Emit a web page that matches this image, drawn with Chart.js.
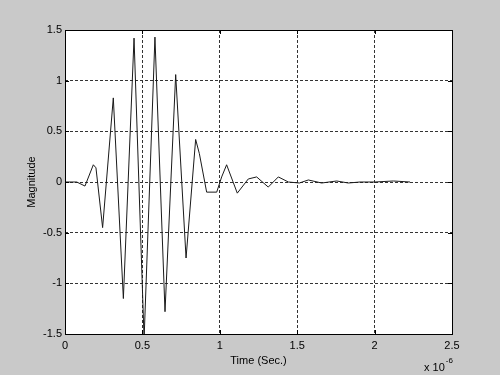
<!DOCTYPE html>
<html>
<head>
<meta charset="utf-8">
<script src="https://cdn.jsdelivr.net/npm/chart.js@4/dist/chart.umd.min.js"></script>
<style>
  html, body { margin: 0; padding: 0; background: #c9c9c9; }
  #c { display: block; }
</style>
</head>
<body>
<canvas id="c" width="500" height="375"></canvas>
<script>
// Time values (units of 1e-6 s)
const timeValues = [0, 0.076, 0.129, 0.183, 0.2, 0.243, 0.312, 0.377, 0.446, 0.511, 0.581, 0.646, 0.715, 0.782, 0.844, 0.868, 0.915, 0.98, 1.012, 1.044, 1.113, 1.184, 1.238, 1.313, 1.378, 1.443, 1.514, 1.572, 1.658, 1.755, 1.83, 1.906, 2.003, 2.121, 2.229];
// Magnitude values
const magnitudeValues = [0, 0, -0.04, 0.17, 0.14, -0.45, 0.83, -1.15, 1.42, -1.55, 1.43, -1.28, 1.06, -0.75, 0.42, 0.28, -0.10, -0.10, 0.05, 0.17, -0.11, 0.03, 0.05, -0.05, 0.05, 0.00, -0.01, 0.02, -0.01, 0.01, -0.01, 0.00, 0.00, 0.01, 0.00];
const xTickValues = [0, 0.5, 1, 1.5, 2, 2.5];
const yTickValues = [-1.5, -1, -0.5, 0, 0.5, 1, 1.5];
const xLabel = 'Time (Sec.)';
const yLabel = 'Magnitude';
const xExponent = '-6';

const FONT = 'Liberation Sans, Arial, Helvetica, sans-serif';

const points = timeValues.map((t, i) => ({ x: t, y: magnitudeValues[i] }));

const boxPlugin = {
  id: 'box',
  beforeDraw(chart) {
    const { ctx, chartArea: a } = chart;
    ctx.save();
    ctx.fillStyle = '#ffffff';
    ctx.fillRect(a.left, a.top, a.right - a.left, a.bottom - a.top);
    ctx.restore();
  },
  afterDraw(chart) {
    const { ctx, chartArea: a, scales } = chart;
    ctx.save();
    ctx.strokeStyle = '#000';
    ctx.lineWidth = 1;
    ctx.strokeRect(Math.round(a.left) + 0.5, Math.round(a.top) + 0.5, Math.round(a.right - a.left), Math.round(a.bottom - a.top));
    // inward ticks
    const tl = 4;
    ctx.beginPath();
    xTickValues.forEach(v => {
      const px = Math.round(scales.x.getPixelForValue(v)) + 0.5;
      ctx.moveTo(px, a.bottom); ctx.lineTo(px, a.bottom - tl);
      ctx.moveTo(px, a.top); ctx.lineTo(px, a.top + tl);
    });
    yTickValues.forEach(v => {
      const py = Math.round(scales.y.getPixelForValue(v)) + 0.5;
      ctx.moveTo(a.left, py); ctx.lineTo(a.left + tl, py);
      ctx.moveTo(a.right, py); ctx.lineTo(a.right - tl, py);
    });
    ctx.stroke();
    // exponent label
    ctx.fillStyle = '#000';
    ctx.textBaseline = 'alphabetic';
    ctx.textAlign = 'left';
    ctx.font = '11px ' + FONT;
    const baseX = a.right - 28;
    ctx.fillText('x 10', baseX, 371);
    const w = ctx.measureText('x 10').width;
    ctx.font = '8px ' + FONT;
    ctx.fillText(xExponent, baseX + w + 1, 363);
    ctx.restore();
  }
};

new Chart(document.getElementById('c'), {
  type: 'line',
  data: {
    datasets: [{
      data: points,
      borderColor: '#1a1a1a',
      borderWidth: 1,
      pointRadius: 0,
      tension: 0,
      fill: false
    }]
  },
  options: {
    responsive: false,
    devicePixelRatio: 1,
    animation: false,
    layout: { padding: { top: 30, right: 48, left: 0, bottom: 0 } },
    plugins: { legend: { display: false }, tooltip: { enabled: false } },
    scales: {
      x: {
        type: 'linear',
        min: 0, max: 2.5,
        afterBuildTicks: s => { s.ticks = xTickValues.map(v => ({ value: v })); },
        afterFit: s => { s.height = 41; },
        ticks: {
          color: '#000', font: { family: FONT, size: 11 }, padding: 5,
          maxRotation: 0, autoSkip: false,
          callback: v => String(v)
        },
        grid: { color: '#333', lineWidth: 1, drawTicks: false },
        border: { display: false, dash: [3, 2] },
        title: { display: true, text: xLabel, color: '#000', font: { family: FONT, size: 11 }, padding: { top: 0, bottom: 7 } }
      },
      y: {
        type: 'linear',
        min: -1.5, max: 1.5,
        afterBuildTicks: s => { s.ticks = yTickValues.map(v => ({ value: v })); },
        afterFit: s => { s.width = 65; },
        ticks: {
          color: '#000', font: { family: FONT, size: 11 }, padding: 3,
          autoSkip: false,
          callback: v => String(v)
        },
        grid: { color: '#333', lineWidth: 1, drawTicks: false },
        border: { display: false, dash: [3, 2] },
        title: { display: true, text: yLabel, color: '#000', font: { family: FONT, size: 11 }, padding: { top: 25, bottom: 0 } }
      }
    }
  },
  plugins: [boxPlugin]
});
</script>
</body>
</html>
